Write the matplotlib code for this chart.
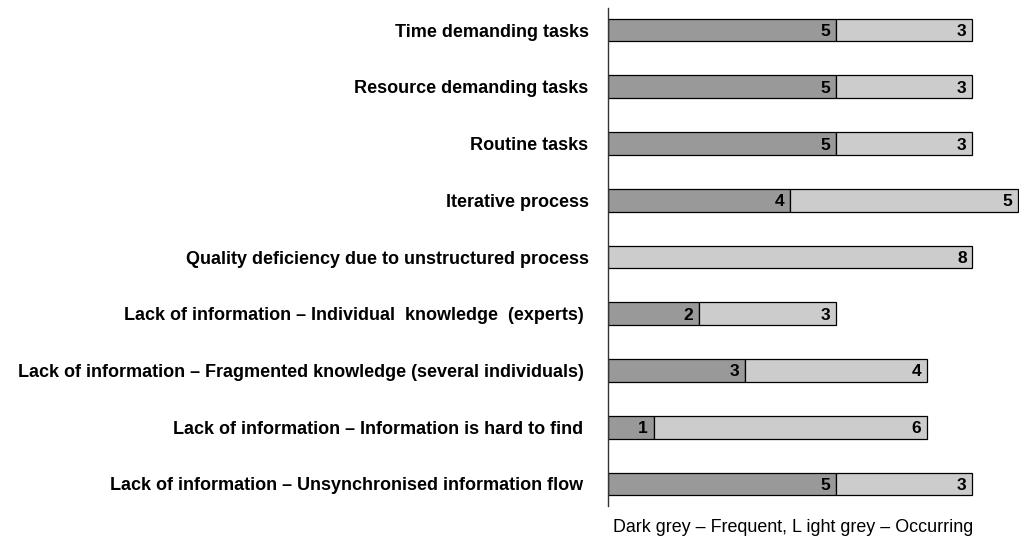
import matplotlib.pyplot as plt
import numpy as np

plt.rcParams['font.family'] = ['Liberation Sans', 'DejaVu Sans']

categories = [
    "Time demanding tasks",
    "Resource demanding tasks",
    "Routine tasks",
    "Iterative process",
    "Quality deficiency due to unstructured process",
    "Lack of information \u2013 Individual  knowledge  (experts) ",
    "Lack of information \u2013 Fragmented knowledge (several individuals) ",
    "Lack of information \u2013 Information is hard to find ",
    "Lack of information \u2013 Unsynchronised information flow ",
]
frequent = [5, 5, 5, 4, 0, 2, 3, 1, 5]
occurring = [3, 3, 3, 5, 8, 3, 4, 6, 3]
caption = "Dark grey \u2013 Frequent, L ight grey \u2013 Occurring"

fig = plt.figure(figsize=(10.19, 5.42), dpi=100)
ax = fig.add_axes([608 / 1019, 36 / 542, 411 / 1019, 498 / 542])

y = np.arange(len(categories))
freq = np.array(frequent)
occ = np.array(occurring)

ax.barh(y, freq, height=0.4, color='#999999', edgecolor='#000000', linewidth=0.9)
ax.barh(y, occ, left=freq, height=0.4, color='#cccccc', edgecolor='#000000', linewidth=0.9)

# value labels at the right end of each segment
for i in range(len(y)):
    if freq[i] > 0:
        ax.text(freq[i] - 0.12, y[i], str(freq[i]), ha='right', va='center_baseline',
                fontsize=12.5, fontweight='bold')
    ax.text(freq[i] + occ[i] - 0.12, y[i], str(occ[i]), ha='right', va='center_baseline',
            fontsize=12.5, fontweight='bold')

ax.set_xlim(0, 9.03)
ax.set_ylim(8.39, -0.39)
ax.set_yticks(y)
ax.set_yticklabels(categories, fontsize=13, fontweight='bold')
ax.tick_params(axis='y', length=0, pad=14)
ax.set_xticks([])
for s in ['top', 'right', 'bottom']:
    ax.spines[s].set_visible(False)
ax.spines['left'].set_linewidth(1)
ax.spines['left'].set_color('#333333')

fig.text(793 / 1019, 1 - 528 / 542, caption, ha='center', va='center', fontsize=12.9)

fig.savefig('out.png', dpi=100)
